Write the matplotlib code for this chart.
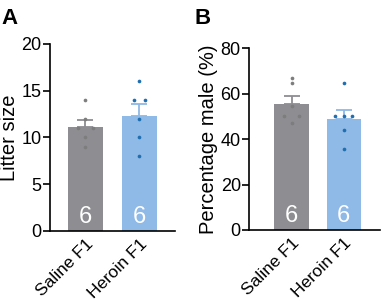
import numpy as np
import matplotlib
matplotlib.use('Agg')
import matplotlib.pyplot as plt

plt.rcParams['font.family'] = ['Liberation Sans', 'DejaVu Sans']

groups = ['Saline F1', 'Heroin F1']
litter_saline = [14, 12, 11, 11, 10, 9]
litter_heroin = [16, 14, 14, 12, 10, 8]
male_saline = [66.8, 64.5, 54.5, 50.1, 50.1, 46.9]
male_heroin = [64.5, 50.0, 50.0, 50.0, 43.8, 35.7]
n_labels = ['6', '6']

bar_colors = ['#8e8e92', '#8fb9e6']
dot_colors = ['#7d7d7d', '#1f6fb0']


def panel(ax, data, ymax, ystep, ylabel, xlim, offsets):
    for i, vals in enumerate(data):
        vals = np.array(vals)
        m = vals.mean()
        sem = vals.std(ddof=1) / np.sqrt(len(vals))
        ax.bar(i, m, width=0.66, color=bar_colors[i], zorder=1)
        ax.errorbar(i, m, yerr=[[0], [sem]], color=bar_colors[i], capsize=6,
                    elinewidth=1.3, capthick=1.3, zorder=2)
        ax.scatter(i + np.array(offsets[i]), vals, s=7, color=dot_colors[i],
                   linewidths=0, zorder=3)
        ax.text(i, ymax * 0.015, n_labels[i], color='white', ha='center', va='bottom',
                fontsize=17)
    ax.set_ylim(0, ymax)
    ax.set_xlim(*xlim)
    ax.set_yticks(np.arange(0, ymax + 1, ystep))
    ax.set_xticks([0, 1])
    ax.set_xticklabels(groups, rotation=45, ha='right', rotation_mode='anchor', fontsize=12.5)
    ax.set_ylabel(ylabel, fontsize=14.5, labelpad=2)
    ax.tick_params(axis='y', labelsize=13, length=5, width=1.2, pad=1)
    ax.tick_params(axis='x', length=0, pad=4)
    for s in ['top', 'right']:
        ax.spines[s].set_visible(False)
    for s in ['left', 'bottom']:
        ax.spines[s].set_linewidth(1.2)


fig = plt.figure(figsize=(3.81, 3.01), dpi=100)
axA = fig.add_axes([0.131, 0.233, 0.328, 0.621])
axB = fig.add_axes([0.654, 0.236, 0.343, 0.604])

panel(axA, [litter_saline, litter_heroin], 20, 5, 'Litter size', (-0.66, 1.66),
      [[0, 0, -0.14, 0.14, 0, 0], [0, -0.1, 0.1, 0, 0, 0]])
panel(axB, [male_saline, male_heroin], 80, 20, 'Percentage male (%)', (-0.81, 1.69),
      [[0, 0, 0, -0.14, 0.14, 0], [0, -0.16, 0, 0.16, 0, 0]])

fig.text(0.005, 0.975, 'A', fontsize=16, fontweight='bold', va='top')
fig.text(0.51, 0.975, 'B', fontsize=16, fontweight='bold', va='top')

fig.savefig('out.png', dpi=100)
